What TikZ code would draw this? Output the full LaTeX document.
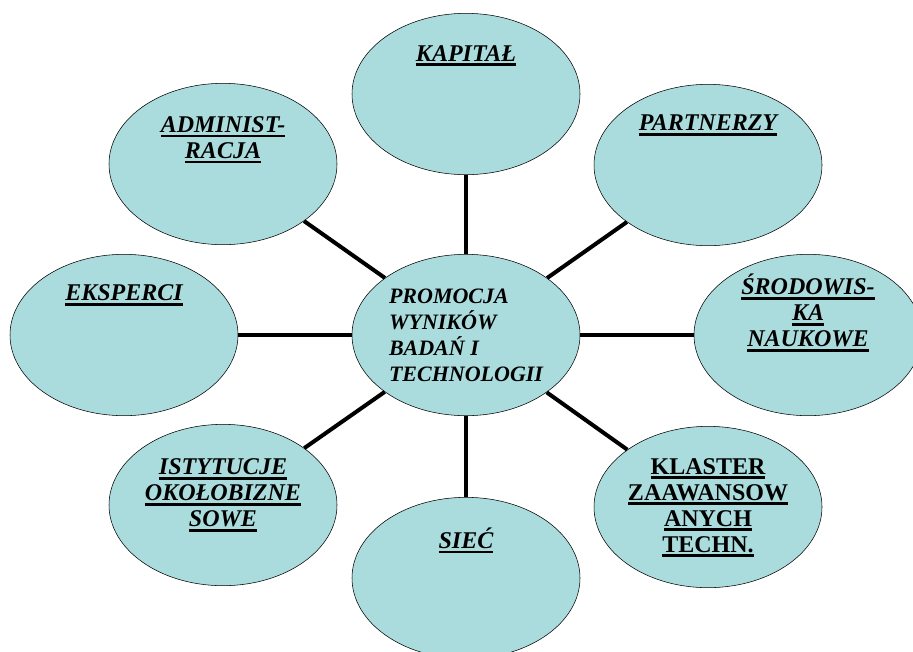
\documentclass[tikz,border=0pt]{standalone}
\usepackage{fontspec}
\setmainfont{Liberation Serif}
\usetikzlibrary{shapes.geometric, positioning}
\definecolor{bubblecyan}{RGB}{171,220,221}
\newcommand{\ulbf}[1]{\setbox0\hbox{#1}\leavevmode\rlap{\rule[-3.6pt]{\wd0}{2pt}}\box0}

\begin{document}
\begin{tikzpicture}[x=0.75pt, y=-0.75pt,
		bubble/.style={draw, thin, ellipse, fill=bubblecyan, minimum width=171pt, minimum height=121pt, inner sep=0pt},
		caption/.style={font=\fontsize{18}{19.5}\selectfont\bfseries\itshape, align=center, inner sep=0pt, anchor=north},
		spoke/.style={line width=3pt}]
	\useasboundingbox (0,0) rectangle (913,651);
	\clip (0,0) rectangle (913,651);
	% the bubbles
	\node[bubble, font=\fontsize{16.5}{19.5}\selectfont\bfseries\itshape, align=left] (centre) at (466,335) {PROMOCJA\\WYNIKÓW\\BADAŃ I\\TECHNOLOGII};
	\node[bubble] (kap) at (466,94) {};
	\node[bubble] (part) at (708,165) {};
	\node[bubble] (srod) at (808,335) {};
	\node[bubble] (klas) at (708,507) {};
	\node[bubble] (siec) at (466,578) {};
	\node[bubble] (isty) at (223,505) {};
	\node[bubble] (eksp) at (124,335) {};
	\node[bubble] (admi) at (223,164) {};
	% spokes
	\foreach \b in {kap, part, srod, klas, siec, isty, eksp, admi}
		\draw[spoke] (centre) -- (\b);
	% captions
	\node[caption] (kapt) at ([yshift=-24pt]kap.north) {\ulbf{KAPITAŁ}};
	\node[caption] (partt) at ([yshift=-23pt]part.north) {\ulbf{PARTNERZY}};
	\node[caption] (srodt) at ([yshift=-15pt]srod.north) {\ulbf{ŚRODOWIS-}\\\ulbf{KA}\\\ulbf{NAUKOWE}};
	\node[caption, font=\fontsize{18}{19.5}\selectfont\bfseries\upshape] (klast) at ([yshift=-24pt]klas.north) {\ulbf{KLASTER}\\\ulbf{ZAAWANSOW}\\\ulbf{ANYCH}\\\ulbf{TECHN.}};
	\node[caption] (siect) at ([yshift=-23pt]siec.north) {\ulbf{SIEĆ}};
	\node[caption] (istyt) at ([yshift=-26pt]isty.north) {\ulbf{ISTYTUCJE}\\\ulbf{OKOŁOBIZNE}\\\ulbf{SOWE}};
	\node[caption] (ekspt) at ([yshift=-23pt]eksp.north) {\ulbf{EKSPERCI}};
	\node[caption] (admit) at ([yshift=-25pt]admi.north) {\ulbf{ADMINIST-}\\\ulbf{RACJA}};
\end{tikzpicture}
\end{document}
